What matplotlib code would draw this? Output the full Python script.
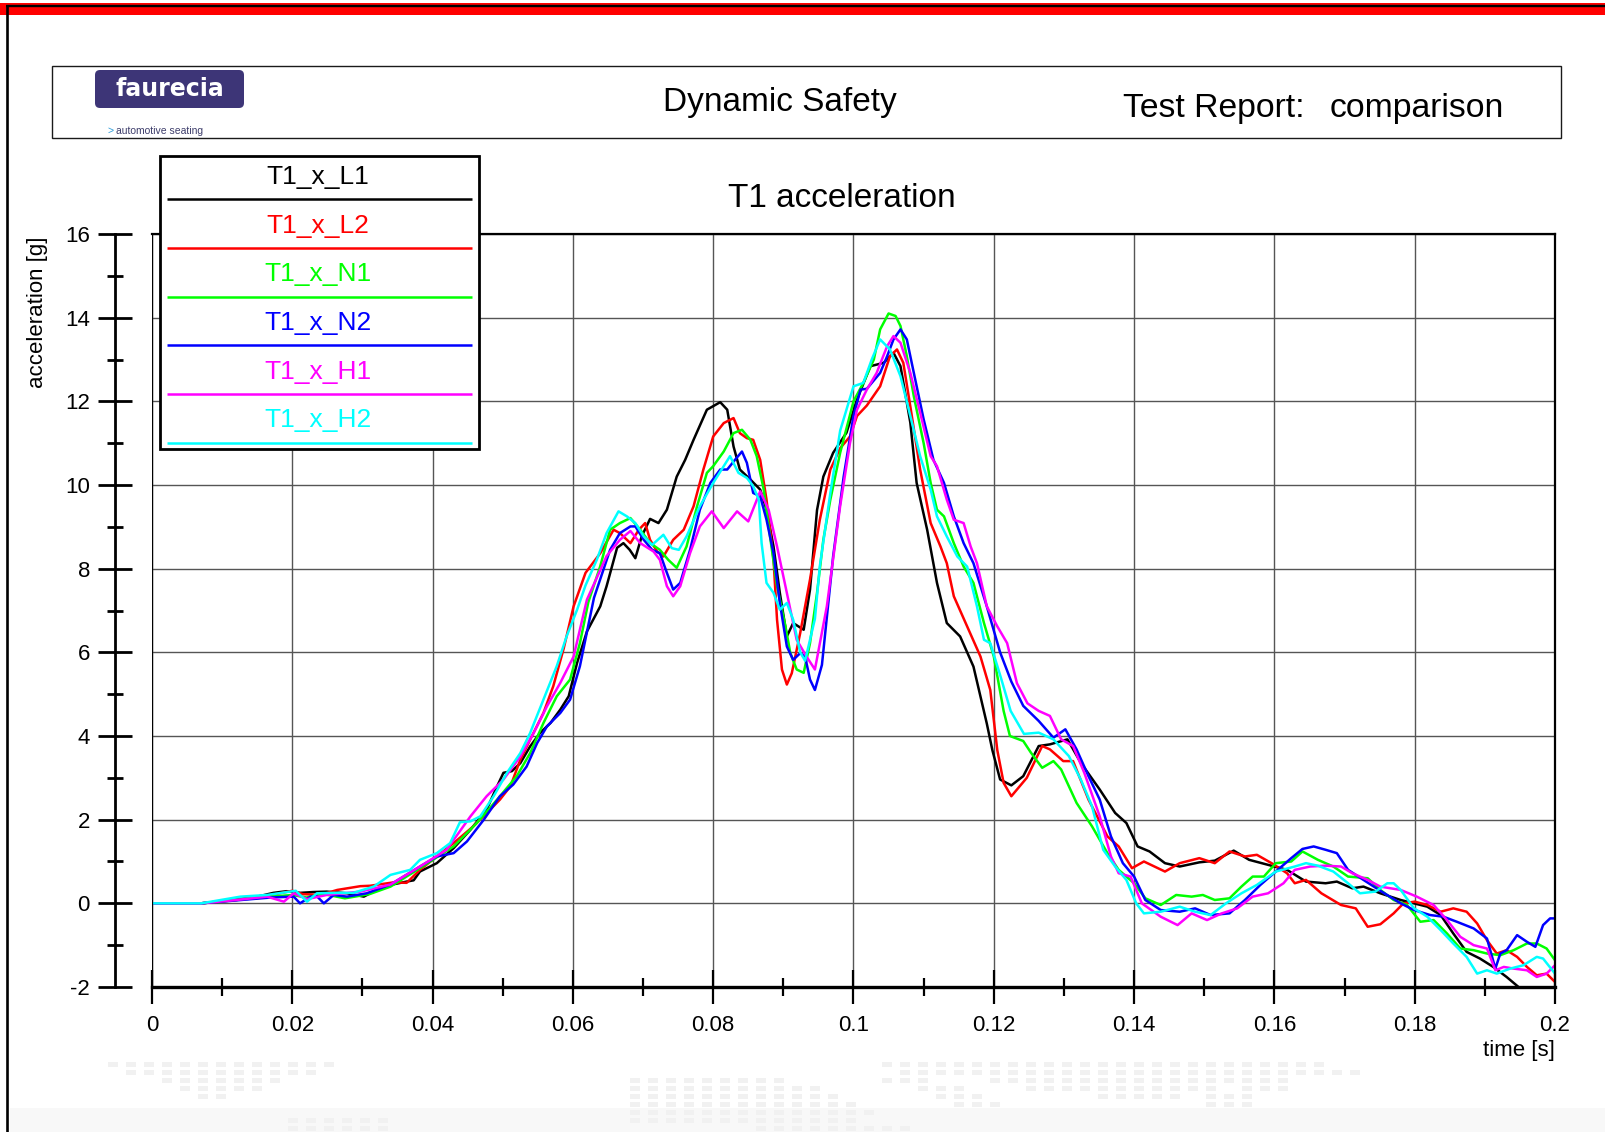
import matplotlib
matplotlib.use('Agg')
import matplotlib.pyplot as plt
from matplotlib.patches import Rectangle, FancyBboxPatch
from matplotlib.ticker import MultipleLocator, FuncFormatter

plt.rcParams['font.family'] = ['Liberation Sans', 'DejaVu Sans']
plt.rcParams['axes.unicode_minus'] = False

W, H = 1605, 1132

# T1 x-acceleration [g] against time [s], one pair of lists per test
t_L1 = [0, 0.007, 0.0116, 0.015, 0.0173, 0.0192, 0.0211, 0.023, 0.0249, 0.0278, 0.0302, 0.0321, 0.034, 0.0363, 0.0373, 0.0382,
        0.0406, 0.043, 0.0454, 0.0477, 0.0492, 0.0501, 0.0513, 0.0525, 0.0539, 0.0553, 0.0568, 0.0582, 0.0594, 0.0606, 0.062,
        0.0639, 0.0648, 0.0663, 0.0672, 0.0681, 0.0689, 0.0698, 0.071, 0.0722, 0.0734, 0.0748, 0.076, 0.0772, 0.0791, 0.081,
        0.082, 0.0829, 0.0838, 0.0853, 0.0867, 0.0876, 0.0886, 0.0895, 0.0905, 0.0914, 0.0929, 0.0938, 0.0948, 0.0957, 0.0971,
        0.099, 0.1005, 0.1024, 0.1043, 0.1057, 0.1067, 0.1081, 0.109, 0.1105, 0.1119, 0.1133, 0.1152, 0.1171, 0.119, 0.1198,
        0.1209, 0.1225, 0.1242, 0.1264, 0.128, 0.1305, 0.1324, 0.1351, 0.1373, 0.1389, 0.1405, 0.1422, 0.1444, 0.1465, 0.1493,
        0.1515, 0.1542, 0.1564, 0.1591, 0.1618, 0.1645, 0.1673, 0.1689, 0.1711, 0.1727, 0.1751, 0.178, 0.1799, 0.1818, 0.1837,
        0.1855, 0.1874, 0.1893, 0.1912, 0.1931, 0.1948, 0.1965]
g_L1 = [0, 0, 0.08, 0.16, 0.25, 0.29, 0.25, 0.27, 0.28, 0.24, 0.16, 0.33, 0.44, 0.52, 0.55, 0.76,
        0.96, 1.32, 1.76, 2.24, 2.8, 3.12, 3.16, 3.35, 3.75, 4.07, 4.31, 4.63, 4.95, 5.75, 6.5,
        7.1, 7.58, 8.5, 8.61, 8.45, 8.25, 8.77, 9.19, 9.09, 9.41, 10.2, 10.6, 11.08, 11.8, 11.98,
        11.8, 10.92, 10.37, 10.13, 9.89, 9.41, 8.53, 7.42, 6.38, 6.7, 6.54, 7.5, 9.4, 10.2, 10.77,
        11.25, 12.04, 12.84, 12.92, 13.16, 12.84, 11.49, 10.05, 8.93, 7.66, 6.7, 6.38, 5.66, 4.3, 3.66,
        2.96, 2.82, 3.04, 3.76, 3.8, 3.92, 3.36, 2.72, 2.16, 1.92, 1.36, 1.24, 0.96, 0.88, 0.98,
        1.02, 1.26, 1.04, 0.92, 0.8, 0.52, 0.48, 0.52, 0.36, 0.4, 0.24, 0.08, 0.0, -0.08, -0.28,
        -0.72, -1.16, -1.32, -1.52, -1.76, -2.0, -2.3]

t_L2 = [0, 0.007, 0.012, 0.017, 0.02, 0.0215, 0.024, 0.0264, 0.0297, 0.0311, 0.0344, 0.0363, 0.0382, 0.043, 0.0458, 0.0482,
        0.0496, 0.0511, 0.0525, 0.0539, 0.0558, 0.0572, 0.0587, 0.0601, 0.0618, 0.0639, 0.0658, 0.0667, 0.0682, 0.0694, 0.0703,
        0.071, 0.072, 0.0729, 0.0743, 0.0758, 0.0772, 0.0786, 0.08, 0.0815, 0.0829, 0.0838, 0.0848, 0.0857, 0.0867, 0.0876,
        0.0886, 0.0891, 0.0898, 0.0905, 0.0912, 0.0924, 0.0938, 0.0952, 0.0967, 0.0981, 0.0995, 0.1005, 0.1019, 0.1038, 0.1052,
        0.1062, 0.1071, 0.1081, 0.1095, 0.111, 0.1124, 0.1133, 0.1143, 0.1162, 0.1181, 0.1195, 0.1205, 0.1214, 0.1225, 0.1247,
        0.1269, 0.128, 0.1299, 0.1313, 0.1335, 0.1362, 0.1378, 0.1397, 0.1414, 0.1444, 0.1465, 0.1493, 0.1515, 0.1536, 0.1558,
        0.1575, 0.1596, 0.1618, 0.1629, 0.1645, 0.1667, 0.1695, 0.1716, 0.1733, 0.1751, 0.177, 0.1784, 0.18, 0.1818, 0.1837,
        0.1855, 0.1874, 0.1889, 0.1903, 0.1917, 0.1931, 0.1946, 0.196, 0.1974, 0.1988, 0.2]
g_L2 = [0, 0, 0.08, 0.2, 0.3, 0.22, 0.2, 0.32, 0.41, 0.42, 0.5, 0.49, 0.8, 1.44, 1.84, 2.24,
        2.48, 2.8, 3.43, 3.91, 4.55, 5.19, 6.1, 7.1, 7.9, 8.37, 8.93, 8.85, 8.61, 8.93, 9.09,
        8.69, 8.41, 8.29, 8.69, 8.93, 9.49, 10.37, 11.16, 11.48, 11.6, 11.24, 11.12, 11.08, 10.6, 9.65,
        8.22, 6.78, 5.59, 5.23, 5.5, 6.46, 7.74, 9.17, 10.37, 10.88, 11.16, 11.65, 11.9, 12.36, 13.08,
        13.24, 12.92, 11.88, 10.37, 9.09, 8.53, 8.13, 7.34, 6.62, 5.9, 5.1, 3.66, 2.88, 2.56, 3.0,
        3.76, 3.68, 3.4, 3.4, 2.48, 1.6, 1.36, 0.84, 1.0, 0.76, 0.96, 1.08, 0.96, 1.24, 1.12,
        1.16, 0.96, 0.72, 0.48, 0.56, 0.24, -0.04, -0.12, -0.56, -0.5, -0.24, 0.0, 0.04, -0.04, -0.2,
        -0.12, -0.2, -0.48, -0.88, -1.2, -1.12, -1.28, -1.52, -1.72, -1.68, -1.88]

t_N1 = [0, 0.007, 0.012, 0.017, 0.02, 0.022, 0.0245, 0.0275, 0.031, 0.034, 0.0382, 0.043, 0.0463, 0.0492, 0.052, 0.0539,
        0.0558, 0.0577, 0.0596, 0.061, 0.0622, 0.0639, 0.0653, 0.0667, 0.0682, 0.0696, 0.071, 0.0724, 0.0736, 0.0748, 0.0762,
        0.0777, 0.0791, 0.08, 0.0815, 0.0829, 0.0841, 0.0853, 0.0862, 0.0872, 0.0881, 0.0891, 0.0903, 0.091, 0.0919, 0.0929,
        0.0938, 0.0948, 0.0957, 0.0967, 0.0981, 0.1, 0.1014, 0.1029, 0.1038, 0.105, 0.106, 0.1067, 0.1076, 0.1086, 0.11,
        0.111, 0.1119, 0.1129, 0.1143, 0.1157, 0.1171, 0.1186, 0.12, 0.1214, 0.1223, 0.1242, 0.1253, 0.1269, 0.1285, 0.1296,
        0.1318, 0.134, 0.1362, 0.1378, 0.14, 0.1416, 0.1438, 0.146, 0.1482, 0.1498, 0.1515, 0.1536, 0.1553, 0.1569, 0.1585,
        0.1602, 0.1624, 0.164, 0.1662, 0.1684, 0.1705, 0.1733, 0.1751, 0.177, 0.1789, 0.1808, 0.1827, 0.1846, 0.1865, 0.1884,
        0.1903, 0.1922, 0.1941, 0.196, 0.1974, 0.1988, 0.2]
g_N1 = [0, 0, 0.08, 0.16, 0.2, 0.14, 0.22, 0.12, 0.22, 0.4, 0.84, 1.36, 1.92, 2.48, 3.04, 3.59,
        4.31, 4.95, 5.35, 6.22, 7.2, 8.06, 8.93, 9.09, 9.21, 8.93, 8.61, 8.45, 8.21, 8.02, 8.53,
        9.49, 10.29, 10.45, 10.8, 11.24, 11.32, 11.08, 10.69, 9.89, 8.77, 7.58, 6.62, 5.98, 5.59, 5.51,
        6.22, 7.42, 8.69, 9.65, 10.77, 12.0, 12.44, 13.0, 13.72, 14.1, 14.04, 13.8, 13.08, 12.12, 11.0,
        10.05, 9.41, 9.25, 8.61, 8.05, 7.66, 6.7, 5.9, 4.6, 4.0, 3.88, 3.6, 3.24, 3.4, 3.2,
        2.4, 1.84, 1.2, 0.8, 0.48, 0.12, -0.04, 0.2, 0.16, 0.2, 0.08, 0.12, 0.4, 0.64, 0.64,
        0.96, 1.0, 1.24, 1.04, 0.88, 0.64, 0.6, 0.32, 0.08, -0.04, -0.44, -0.4, -0.72, -1.08, -1.12,
        -1.2, -1.24, -1.12, -0.96, -0.96, -1.08, -1.36]

t_N2 = [0, 0.007, 0.012, 0.017, 0.0202, 0.0211, 0.0226, 0.0235, 0.0245, 0.0259, 0.0278, 0.0306, 0.034, 0.0382, 0.0406, 0.043,
        0.0449, 0.0473, 0.0496, 0.0515, 0.0534, 0.0549, 0.0563, 0.0582, 0.0596, 0.061, 0.063, 0.0653, 0.0667, 0.0682, 0.0689,
        0.0701, 0.0713, 0.0724, 0.0734, 0.0743, 0.0753, 0.0767, 0.0781, 0.0796, 0.081, 0.082, 0.0831, 0.0841, 0.0848, 0.0857,
        0.0867, 0.0876, 0.0886, 0.0895, 0.0905, 0.0914, 0.0924, 0.0931, 0.0938, 0.0945, 0.0955, 0.0971, 0.0986, 0.1, 0.101,
        0.1019, 0.1038, 0.1048, 0.1057, 0.1067, 0.1076, 0.1086, 0.11, 0.1114, 0.1129, 0.1143, 0.1157, 0.1171, 0.119, 0.1209,
        0.1225, 0.1242, 0.1264, 0.1285, 0.1302, 0.1318, 0.1335, 0.1351, 0.1367, 0.1384, 0.14, 0.1416, 0.1438, 0.1465, 0.1487,
        0.1509, 0.1536, 0.1558, 0.158, 0.1602, 0.1624, 0.164, 0.1656, 0.1673, 0.1689, 0.1705, 0.1727, 0.1751, 0.178, 0.1799,
        0.1822, 0.1841, 0.186, 0.1884, 0.1903, 0.1915, 0.1922, 0.1931, 0.1946, 0.196, 0.1972, 0.1983, 0.1993, 0.2]
g_N2 = [0, 0, 0.07, 0.14, 0.16, 0.0, 0.16, 0.17, 0.0, 0.2, 0.16, 0.24, 0.45, 0.88, 1.12, 1.2,
        1.48, 2.0, 2.56, 2.84, 3.27, 3.83, 4.23, 4.55, 4.87, 5.67, 7.3, 8.45, 8.85, 9.01, 9.01,
        8.69, 8.45, 8.37, 7.9, 7.5, 7.66, 8.45, 9.41, 10.05, 10.37, 10.37, 10.6, 10.8, 10.53, 9.81,
        9.73, 9.17, 8.37, 7.18, 6.14, 5.82, 5.98, 5.9, 5.35, 5.1, 5.7, 8.3, 10.2, 11.65, 12.28,
        12.3, 12.68, 13.08, 13.48, 13.72, 13.48, 12.68, 11.57, 10.6, 10.05, 9.25, 8.61, 8.13, 7.1, 6.0,
        5.3, 4.72, 4.36, 3.96, 4.16, 3.68, 3.04, 2.48, 1.6, 0.96, 0.64, 0.08, -0.16, -0.2, -0.12,
        -0.28, -0.24, 0.08, 0.44, 0.76, 1.08, 1.3, 1.36, 1.28, 1.2, 0.8, 0.56, 0.3, 0.0, -0.16,
        -0.28, -0.32, -0.44, -0.6, -0.84, -1.56, -1.2, -1.12, -0.76, -0.92, -1.04, -0.52, -0.36, -0.36]

t_H1 = [0, 0.007, 0.012, 0.0164, 0.0188, 0.0202, 0.0221, 0.0249, 0.0297, 0.034, 0.0382, 0.042, 0.0454, 0.0477, 0.0501, 0.0525,
        0.0544, 0.0563, 0.0582, 0.0601, 0.062, 0.0648, 0.0667, 0.0682, 0.0696, 0.0715, 0.0724, 0.0734, 0.0743, 0.0753, 0.0767,
        0.0781, 0.0798, 0.0815, 0.0834, 0.085, 0.0867, 0.0879, 0.0891, 0.0905, 0.0919, 0.0933, 0.0945, 0.0962, 0.0981, 0.0995,
        0.1005, 0.1019, 0.1033, 0.1048, 0.1057, 0.1067, 0.1081, 0.1095, 0.111, 0.1119, 0.1133, 0.1143, 0.1157, 0.1167, 0.1176,
        0.119, 0.1205, 0.1219, 0.1233, 0.1248, 0.1264, 0.128, 0.1296, 0.1313, 0.1329, 0.1351, 0.1367, 0.1378, 0.1395, 0.1411,
        0.1438, 0.1462, 0.1482, 0.1504, 0.1525, 0.1547, 0.1569, 0.1591, 0.1613, 0.1629, 0.1651, 0.1673, 0.1695, 0.1711, 0.1733,
        0.1751, 0.178, 0.1803, 0.1827, 0.1846, 0.1865, 0.1884, 0.1903, 0.1915, 0.1927, 0.1941, 0.196, 0.1974, 0.1988, 0.2]
g_H1 = [0, 0, 0.08, 0.16, 0.04, 0.24, 0.1, 0.2, 0.28, 0.45, 0.88, 1.28, 2.08, 2.56, 2.96, 3.51,
        4.07, 4.71, 5.27, 5.9, 7.26, 8.3, 8.69, 8.9, 8.61, 8.41, 8.21, 7.58, 7.34, 7.58, 8.37,
        9.01, 9.37, 8.97, 9.37, 9.13, 9.85, 9.41, 8.53, 7.42, 6.3, 5.9, 5.59, 7.1, 9.5, 11.0,
        11.8, 12.28, 12.68, 13.32, 13.56, 13.4, 12.68, 11.73, 10.69, 10.45, 9.65, 9.17, 9.09, 8.53, 8.13,
        7.1, 6.62, 6.22, 5.26, 4.78, 4.6, 4.48, 3.92, 3.76, 3.12, 2.08, 1.12, 0.72, 0.64, 0.0,
        -0.32, -0.52, -0.24, -0.4, -0.24, -0.12, 0.16, 0.24, 0.48, 0.8, 0.88, 0.9, 0.88, 0.72, 0.56,
        0.4, 0.32, 0.16, -0.04, -0.4, -0.8, -1.0, -1.08, -1.6, -1.52, -1.56, -1.6, -1.76, -1.68, -1.48]

t_H2 = [0, 0.007, 0.0126, 0.0164, 0.0205, 0.0221, 0.0235, 0.0259, 0.0287, 0.0316, 0.034, 0.0368, 0.0382, 0.0406, 0.0425, 0.0439,
        0.0454, 0.0468, 0.0487, 0.0506, 0.0525, 0.0539, 0.0558, 0.0577, 0.0591, 0.0606, 0.0618, 0.0634, 0.0648, 0.0665, 0.0677,
        0.0689, 0.0701, 0.0713, 0.0729, 0.0741, 0.0751, 0.0762, 0.0781, 0.08, 0.0815, 0.0824, 0.0836, 0.0848, 0.0857, 0.0865,
        0.0869, 0.0876, 0.0886, 0.0895, 0.0905, 0.0914, 0.0924, 0.0931, 0.0945, 0.0952, 0.0967, 0.0981, 0.1, 0.1014, 0.1026,
        0.1038, 0.1052, 0.1067, 0.1081, 0.1095, 0.111, 0.1119, 0.1133, 0.1148, 0.1162, 0.1176, 0.1186, 0.1195, 0.121, 0.1224,
        0.1243, 0.1264, 0.1285, 0.1307, 0.1324, 0.134, 0.1356, 0.1373, 0.1389, 0.1403, 0.1414, 0.1438, 0.1465, 0.1487, 0.1509,
        0.1531, 0.1553, 0.1575, 0.1602, 0.1629, 0.1645, 0.1662, 0.1684, 0.1705, 0.1722, 0.1744, 0.1761, 0.177, 0.178, 0.1799,
        0.1818, 0.1837, 0.1855, 0.1874, 0.1889, 0.1903, 0.1917, 0.1936, 0.1955, 0.1974, 0.1983, 0.2]
g_H2 = [0, 0, 0.16, 0.2, 0.3, 0.04, 0.24, 0.25, 0.25, 0.4, 0.68, 0.8, 1.04, 1.2, 1.44, 1.94,
        1.96, 2.08, 2.56, 3.12, 3.59, 4.07, 4.87, 5.67, 6.38, 7.02, 7.6, 8.21, 8.85, 9.37, 9.25,
        9.09, 8.77, 8.57, 8.81, 8.49, 8.45, 8.77, 9.49, 10.05, 10.45, 10.69, 10.29, 10.17, 9.97, 9.65,
        8.61, 7.66, 7.42, 7.02, 7.18, 6.78, 6.0, 5.8, 6.8, 8.06, 9.81, 11.3, 12.36, 12.44, 13.0,
        13.48, 13.24, 12.6, 11.65, 10.69, 9.89, 9.25, 8.77, 8.29, 8.05, 7.1, 6.3, 6.22, 5.4, 4.6,
        4.05, 4.08, 3.92, 3.52, 2.96, 2.32, 1.28, 0.88, 0.56, 0.0, -0.24, -0.2, -0.08, -0.2, -0.28,
        0.0, 0.24, 0.44, 0.76, 0.88, 0.96, 0.9, 0.76, 0.48, 0.24, 0.28, 0.48, 0.48, 0.32, -0.12,
        -0.32, -0.64, -0.96, -1.28, -1.68, -1.6, -1.68, -1.56, -1.48, -1.28, -1.32, -1.68]

names = ['T1_x_L1', 'T1_x_L2', 'T1_x_N1', 'T1_x_N2', 'T1_x_H1', 'T1_x_H2']
colors = ['#000000', '#ff0000', '#00ff00', '#0000ff', '#ff00ff', '#00ffff']
times = [t_L1, t_L2, t_N1, t_N2, t_H1, t_H2]
accels = [g_L1, g_L2, g_N1, g_N2, g_H1, g_H2]

fig = plt.figure(figsize=(W / 100, H / 100), dpi=100)

# page furniture, drawn in pixel coordinates
bg = fig.add_axes([0, 0, 1, 1], zorder=0)
bg.set_xlim(0, W)
bg.set_ylim(H, 0)
bg.axis('off')

# faint dotted world map in the page footer
bg.add_patch(Rectangle((10, 1108), W, 24, fc='#f8f8f8', ec='none'))
map_rows = [
    [(1, 13), (44, 68)],
    [(2, 12), (45, 70)],
    [(4, 10), (30, 38), (44, 46), (50, 66)],
    [(5, 9), (30, 40), (46, 48), (52, 62), (64, 66)],
    [(6, 7), (30, 41), (47, 49), (56, 60), (62, 64)],
    [(30, 42), (48, 50), (62, 64)],
    [(30, 43)],
    [(11, 16), (30, 42)],
    [(11, 16), (37, 45)],
]
for r, spans in enumerate(map_rows):
    for c0, c1 in spans:
        for c in range(c0, c1 + 1):
            bg.add_patch(Rectangle((90 + 18 * c, 1062 + 8 * r), 10, 5, fc='#f1f1f1', ec='none'))

bg.add_patch(Rectangle((0, 2.7), W, 12.3, fc='#ff0000', ec='none'))
bg.plot([6, W], [6.2, 6.2], color='black', lw=1.7, solid_capstyle='butt')
bg.plot([7, 7], [5, H], color='black', lw=1.9, solid_capstyle='butt')

# report header
bg.add_patch(Rectangle((52.4, 65.7), 1509, 72.6, fc='none', ec='#1a1a1a', lw=1.0))
bg.add_patch(FancyBboxPatch((95, 70), 149, 38, boxstyle='round,pad=0,rounding_size=5',
                            fc='#3d3577', ec='none'))
bg.text(169.5, 96, 'faurecia', color='white', fontsize=17, fontweight='bold',
        family='DejaVu Sans', ha='center', va='baseline')
bg.text(107, 134, '>', color='#2a9ad8', fontsize=7.5, ha='left', va='baseline')
bg.text(116, 134, 'automotive seating', color='#3d3d6b', fontsize=7.5, ha='left', va='baseline')
bg.text(780, 111, 'Dynamic Safety', fontsize=24, ha='center', va='baseline')
bg.text(1122.6, 117, 'Test Report:', fontsize=24.3, ha='left', va='baseline')
bg.text(1330, 117, 'comparison', fontsize=24.3, ha='left', va='baseline')

# chart
ax = fig.add_axes([152 / W, 1 - 987 / H, 1403 / W, 753 / H], zorder=1)
for t, g, c in zip(times, accels, colors):
    ax.plot(t, g, color=c, lw=1.8, solid_joinstyle='round')

ax.set_xlim(0, 0.2)
ax.set_ylim(-2, 16)
ax.xaxis.set_major_locator(MultipleLocator(0.02))
ax.xaxis.set_minor_locator(MultipleLocator(0.01))
ax.yaxis.set_major_locator(MultipleLocator(2))
ax.yaxis.set_minor_locator(MultipleLocator(1))
fmt = FuncFormatter(lambda v, p: '%g' % round(v, 4))
ax.xaxis.set_major_formatter(fmt)
ax.yaxis.set_major_formatter(fmt)
ax.grid(which='major', color='#555555', lw=1.0)
ax.set_axisbelow(True)

ax.spines['left'].set_position(('outward', 26.6))
ax.spines['left'].set_linewidth(2.0)
ax.spines['bottom'].set_linewidth(2.4)
ax.spines['top'].set_linewidth(1.6)
ax.spines['right'].set_linewidth(1.6)
ax.axvline(0, color='black', lw=1.6)

ax.tick_params(axis='y', which='major', direction='inout', length=24.5, width=2.0, pad=5.8, labelsize=16)
ax.tick_params(axis='y', which='minor', direction='inout', length=12.2, width=2.0)
ax.tick_params(axis='x', which='major', direction='inout', length=23.8, width=1.6, pad=8.6, labelsize=16)
ax.tick_params(axis='x', which='minor', direction='inout', length=13, width=1.6)

fig.text(842 / W, 1 - 207 / H, 'T1 acceleration', fontsize=24, ha='center', va='baseline')
fig.text(38 / W, 1 - 312 / H, 'acceleration [g]', fontsize=16, rotation=90, ha='center', va='center')
fig.text(1555 / W, 1 - 1056 / H, 'time [s]', fontsize=16, ha='right', va='baseline')

# legend: name above a sample of each line
lg = fig.add_axes([0, 0, 1, 1], zorder=2)
lg.set_xlim(0, W)
lg.set_ylim(H, 0)
lg.axis('off')
lg.add_patch(Rectangle((160, 156), 319, 293, fc='white', ec='black', lw=2.0))
for i, (name, c) in enumerate(zip(names, colors)):
    y = 199.3 + 48.67 * i
    lg.plot([167, 472], [y, y], color=c, lw=1.8, solid_capstyle='butt')
    lg.text(318, y - 15.3, name, color=c, fontsize=19, ha='center', va='baseline')

fig.savefig('out.png', dpi=100)
